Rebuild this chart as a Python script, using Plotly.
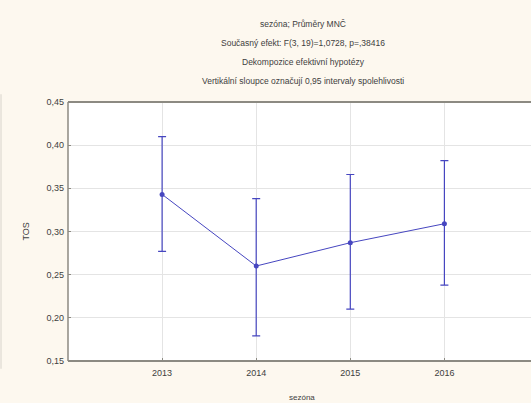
import plotly.graph_objects as go

years = [2013, 2014, 2015, 2016]
means = [0.343, 0.260, 0.287, 0.309]
upper = [0.410, 0.338, 0.366, 0.382]
lower = [0.277, 0.179, 0.210, 0.238]
y_ticks = [0.15, 0.20, 0.25, 0.30, 0.35, 0.40, 0.45]
title_lines = [
    "sezóna; Průměry MNČ",
    "Současný efekt: F(3, 19)=1,0728, p=,38416",
    "Dekompozice efektivní hypotézy",
    "Vertikální sloupce označují 0,95 intervaly spolehlivosti",
]

err_plus = [u - m for u, m in zip(upper, means)]
err_minus = [m - l for m, l in zip(means, lower)]

blue = "#4646c0"
font_fam = "Liberation Sans, Arial, sans-serif"

fig = go.Figure()
fig.add_trace(go.Scatter(
    x=years, y=means, mode="lines+markers",
    line=dict(color=blue, width=1),
    marker=dict(color=blue, size=5, symbol="circle"),
    error_y=dict(type="data", symmetric=False, array=err_plus, arrayminus=err_minus,
                 color=blue, thickness=1.2, width=4),
    showlegend=False,
))

W, H = 531, 403
ml, mr, mt, mb = 68, 0, 102, 42

annotations = []
title_y = [24, 43, 62, 81]
for t, yy in zip(title_lines, title_y):
    annotations.append(dict(
        text=t, xref="paper", yref="paper", x=(303 - ml) / (W - ml - mr),
        y=1 + (mt - yy) / (H - mt - mb), xanchor="center", yanchor="middle",
        showarrow=False, font=dict(size=8.5, color="#404040", family=font_fam)))
annotations.append(dict(
    text="sezóna", xref="paper", yref="paper", x=(302 - ml) / (W - ml - mr),
    y=-(397 - (H - mb)) / (H - mt - mb), xanchor="center", yanchor="middle",
    showarrow=False, font=dict(size=8, color="#404040", family=font_fam)))
annotations.append(dict(
    text="TOS", xref="paper", yref="paper", x=-(ml - 25) / (W - ml - mr),
    y=0.5, xanchor="center", yanchor="middle", textangle=-90,
    showarrow=False, font=dict(size=9, color="#404040", family=font_fam)))

fig.update_layout(
    width=W, height=H,
    margin=dict(l=ml, r=mr, t=mt, b=mb, pad=0),
    paper_bgcolor="#fdf8ef",
    plot_bgcolor="#ffffff",
    separators=", ",
    font=dict(family=font_fam, size=9, color="#404040"),
    annotations=annotations,
    shapes=[
        dict(type="line", xref="paper", yref="paper", x0=0, x1=1.02, y0=1, y1=1,
             line=dict(color="#8c8a82", width=2)),
        dict(type="line", xref="paper", yref="paper", x0=0, x1=1.02, y0=0, y1=0,
             line=dict(color="#8c8a82", width=2)),
        dict(type="line", xref="paper", yref="paper", x0=0, x1=0, y0=0, y1=1,
             line=dict(color="#8c8a82", width=1.5)),
        dict(type="line", xref="paper", yref="paper",
             x0=-(ml - 1) / (W - ml - mr), x1=-(ml - 1) / (W - ml - mr),
             y0=-0.03, y1=1.03, line=dict(color="#d8d4cc", width=1)),
    ],
    xaxis=dict(
        range=[2012, 2012 + (W - ml - mr) / 94.1],
        tickmode="array", tickvals=years, ticktext=[str(y) for y in years],
        showgrid=True, gridcolor="#e4e4e4", gridwidth=1,
        zeroline=False, showline=False,
        ticks="inside", ticklen=3, tickcolor="#8c8a82",
        ticklabelstandoff=5,
        tickfont=dict(size=9, color="#404040"),
    ),
    yaxis=dict(
        range=[0.15, 0.45],
        tickmode="array", tickvals=y_ticks,
        tickformat=".2f",
        showgrid=True, gridcolor="#e4e4e4", gridwidth=1,
        zeroline=False, showline=False,
        ticks="inside", ticklen=3, tickcolor="#8c8a82",
        ticklabelstandoff=3,
        tickfont=dict(size=9, color="#404040"),
    ),
)

fig.write_html("out.html", config={"displayModeBar": False},
               post_script="document.body.style.margin='0';document.body.style.overflow='hidden';")
